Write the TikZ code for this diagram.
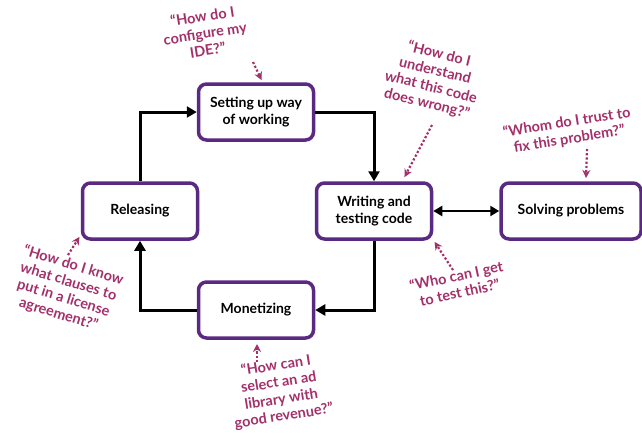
\documentclass[tikz,border=0pt]{standalone}
\usepackage{fontspec}
\setmainfont{Lato}
\usetikzlibrary{arrows.meta}
\definecolor{boxpurple}{HTML}{5A2A82}
\definecolor{notecol}{HTML}{A3306A}
\tikzset{
  stage/.style={draw=boxpurple, line width=3.5pt, rounded corners=8pt, fill=white,
    minimum width=115pt, minimum height=56pt, align=center,
    font=\fontsize{14}{16.5}\selectfont\bfseries, text=black},
  flow/.style={draw=black, line width=3pt, -{Triangle[length=10pt,width=11pt]}},
  flow2/.style={draw=black, line width=2.6pt, {Triangle[length=9pt,width=10pt]}-{Triangle[length=9pt,width=10pt]}},
  note/.style={text=notecol, align=center, font=\fontsize{14.5}{17}\selectfont\bfseries},
  hint/.style={draw=notecol, line width=2.2pt, dotted, -{Stealth[length=8pt,width=8pt]}, shorten >=1pt}
}
\begin{document}
\begin{tikzpicture}[x=1pt,y=-1pt]
\useasboundingbox (0,0) rectangle (642,440);
\node[stage] (setup) at (256,112) {Setting up way\\of working};
\node[stage] (write) at (374,211) {Writing and\\testing code};
\node[stage, minimum width=140pt] (solve) at (571,211) {Solving problems};
\node[stage] (release) at (140,211) {Releasing};
\node[stage] (money) at (256,310) {Monetizing};

\draw[flow] (release.north) |- (setup.west);
\draw[flow] (setup.east) -| (write.north);
\draw[flow] (write.south) |- (money.east);
\draw[flow] (money.west) -| (release.south);
\draw[flow2] (write.east) -- (solve.west);

\node[note, rotate=9] (n1) at (205,33) {“How do I\\configure my\\IDE?”};
\node[note, rotate=-14] (n2) at (433,79) {“How do I\\understand\\what this code\\does wrong?”};
\node[note, rotate=9] (n3) at (568,131) {“Whom do I trust to\\fix this problem?”};
\node[note, rotate=-17] (n4) at (66,290) {“How do I know\\what clauses to\\put in a license\\agreement?”};
\node[note, rotate=9] (n5) at (280,391) {“How can I\\select an ad\\library with\\good revenue?”};
\node[note, rotate=12] (n6) at (458,284) {“Who can I get\\to test this?”};

\coordinate (a1) at (253,62);
\coordinate (b1) at (262,81);
\coordinate (a2) at (432,125);
\coordinate (b2) at (404,178);
\coordinate (a3) at (587,149);
\coordinate (b3) at (586,179);
\coordinate (a4) at (68,255);
\coordinate (b4) at (80,236);
\coordinate (a5) at (257,362);
\coordinate (b5) at (257,343);
\coordinate (a6) at (453,270);
\coordinate (b6) at (434,241);
\draw[hint] (a1) -- (b1);
\draw[hint] (a2) -- (b2);
\draw[hint] (a3) -- (b3);
\draw[hint] (a4) -- (b4);
\draw[hint] (a5) -- (b5);
\draw[hint] (a6) -- (b6);
\end{tikzpicture}
\end{document}
